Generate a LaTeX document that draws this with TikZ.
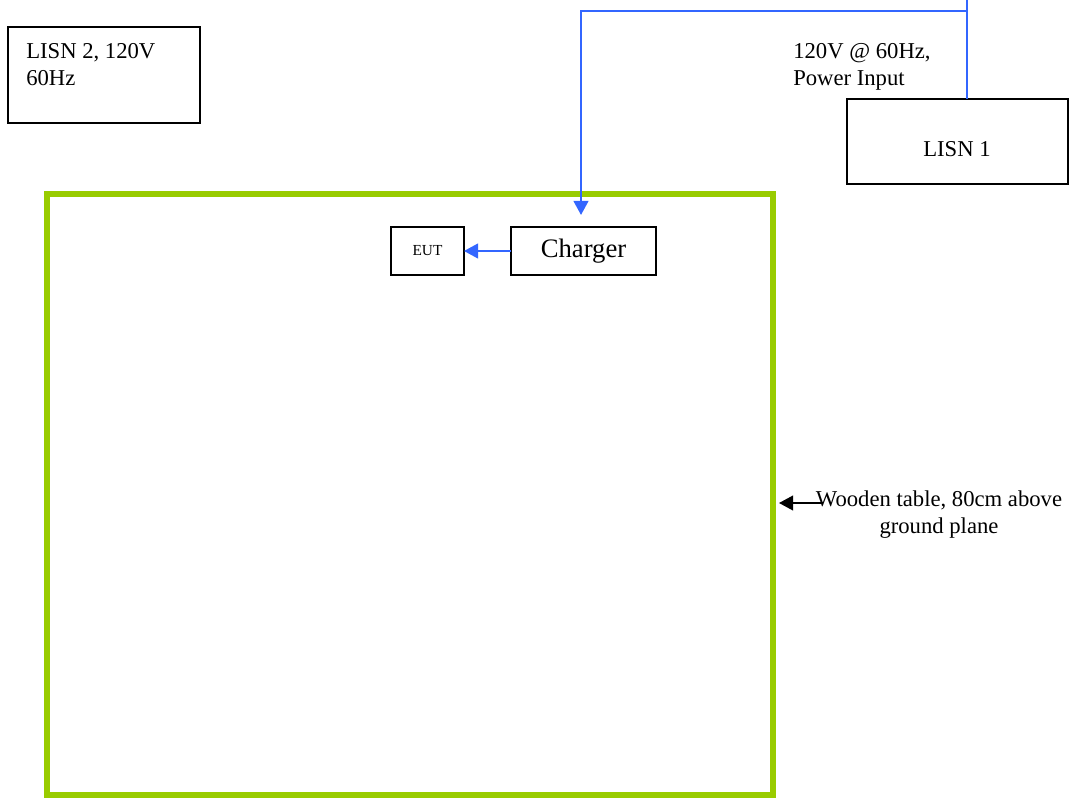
\documentclass[tikz,border=0pt]{standalone}
\usepackage{fontspec}
\setmainfont{Liberation Serif}
\usepackage{tikz}
\usetikzlibrary{positioning,arrows.meta,calc}
\definecolor{tablegreen}{HTML}{99CC00}
\definecolor{wireblue}{HTML}{3366FF}

\begin{document}
\begin{tikzpicture}[
    x=0.75pt, y=-0.75pt,
    font=\fontsize{17}{20}\selectfont,
    >={Triangle[length=10.5pt, width=11pt]},
    unit/.style={draw, line width=1.4pt, inner sep=0pt, outer sep=0pt, anchor=north west},
    boxtext/.style={inner sep=0pt, align=left, anchor=north west},
    wire/.style={draw=wireblue, line width=1.5pt},
    note/.style={->, line width=1.3pt},
  ]
    \useasboundingbox (0,0) rectangle (1069,798);

    % wooden table
    \node[unit, draw=tablegreen, line width=4.5pt, minimum width=544.5pt, minimum height=450.75pt] (table) at (47,194) {};

    % LISNs
    \node[unit, minimum width=144pt, minimum height=72pt] (lisn2) at (8,27) {};
    \node[boxtext] (lisn2txt) at (26,43) {LISN 2, 120V\\60Hz};
    \node[unit, minimum width=165.75pt, minimum height=63.75pt] (lisn1) at (847,99) {};
    \node[inner sep=0pt] (lisn1txt) at (957,149) {LISN 1};
    \node[boxtext] (supply) at (793,43) {120V @ 60Hz,\\Power Input};

    % equipment on the table
    \node[unit, minimum width=54.75pt, minimum height=36pt, font=\fontsize{11.5}{13}\selectfont] (eut) at (391,227) {EUT};
    \node[unit, minimum width=108.75pt, minimum height=36pt, font=\fontsize{20}{24}\selectfont] (charger) at (511,227) {Charger};

    % power feed
    \coordinate (tap) at (967,0);
    \coordinate (bend) at (581,11);
    \coordinate (drop) at (581,215);
    \draw[wire, line width=0.9pt] (tap) -- (tap |- lisn1.north);
    \draw[wire, ->] (bend -| tap) -- (bend) -- (drop);
    \draw[wire, ->] (charger) -- (eut);

    % table note
    \node[inner sep=0pt, align=center, anchor=north] (woodtxt) at (939,491) {Wooden table, 80cm above\\ground plane};
    \coordinate (woodtail) at (823,503);
    \draw[note, shorten >=4.5pt] (woodtail) -- (woodtail -| table.east);
\end{tikzpicture}
\end{document}
